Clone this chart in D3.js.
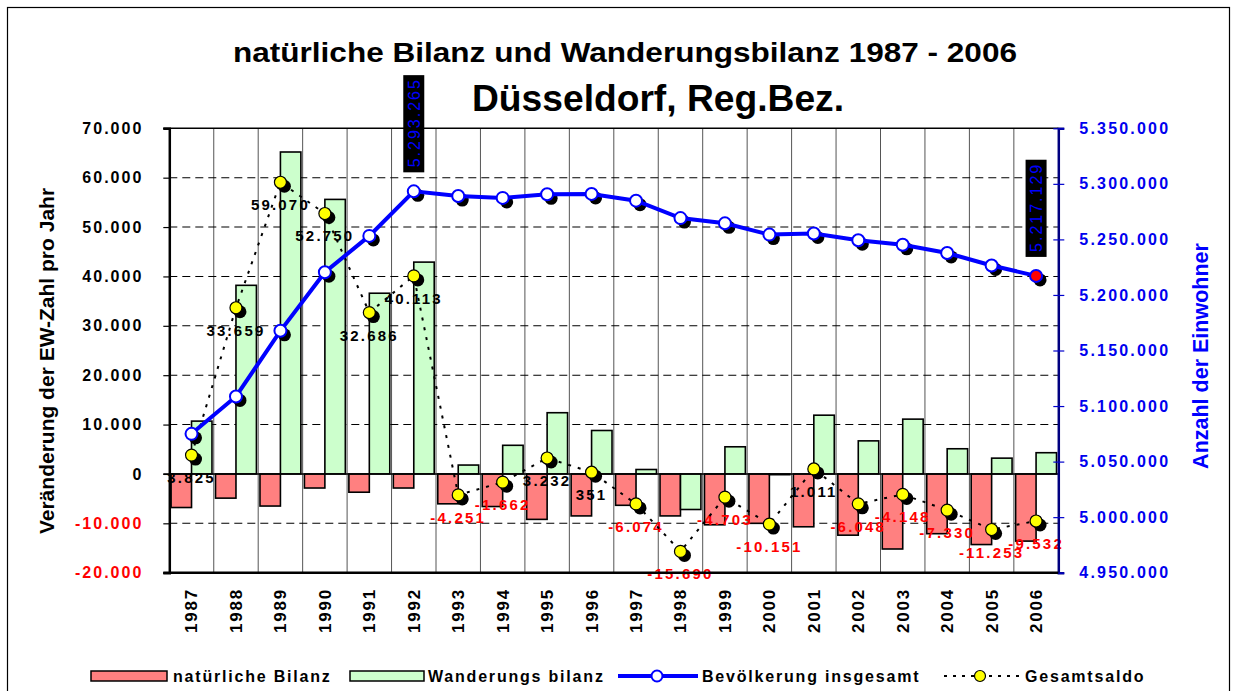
<!DOCTYPE html>
<html>
<head>
<meta charset="utf-8">
<script src="https://cdn.jsdelivr.net/npm/d3@7"></script>
<style>
  body { margin: 0; background: #fff; }
  svg text { font-family: "Liberation Sans", Arial, sans-serif; font-weight: bold; }
</style>
</head>
<body>
<svg id="chart" width="1237" height="691"></svg>
<script>
// data
var years = ["1987","1988","1989","1990","1991","1992","1993","1994","1995","1996",
             "1997","1998","1999","2000","2001","2002","2003","2004","2005","2006"];
var natBilanz = [-6800,-4900,-6500,-2850,-3700,-2850,-6050,-6600,-9200,-8500,
                 -6350,-8500,-10300,-10000,-10700,-12400,-15200,-12100,-14300,-13600];
var wanderBilanz = [10700,38200,65200,55600,36600,42900,1800,5800,12400,8800,
                    900,-7200,5500,-150,11900,6700,11100,5100,3200,4300];
var gesamtsaldo = [3825,33659,59070,52750,32686,40113,-4251,-1662,3232,351,
                   -6074,-15690,-4703,-10151,1011,-6048,-4148,-7330,-11253,-9532];
var bevoelkerung = [5074987,5108646,5167716,5220466,5253152,5293265,5289014,5287352,5290584,5290935,
                    5284861,5269171,5264468,5254317,5255328,5249280,5245132,5237802,5226549,5217129];
var leftTicks = [-20000,-10000,0,10000,20000,30000,40000,50000,60000,70000];
var rightTicks = [4950000,5000000,5050000,5100000,5150000,5200000,5250000,5300000,5350000];
var highlight = [5, 19]; // 1992 und 2006

var de = d3.formatLocale({decimal: ",", thousands: ".", grouping: [3], currency: ["", " €"], minus: "-"});
var fmt = de.format(",d");

var svg = d3.select("#chart");
var plotL = 169.3, plotR = 1058.3, plotT = 128.3, plotB = 572.7;

var x = d3.scaleBand().domain(years).range([plotL, plotR]).padding(0);
var y = d3.scaleLinear().domain([-20000, 70000]).range([plotB, plotT]);
var yR = d3.scaleLinear().domain([4950000, 5350000]).range([plotB, plotT]);
var bw = x.bandwidth() * 0.46;
function cx(d) { return x(d) + x.bandwidth() / 2; }

// outer frame
svg.append("rect").attr("x", 7.5).attr("y", 7.5).attr("width", 1222).attr("height", 700)
    .attr("fill", "none").attr("stroke", "#000").attr("stroke-width", 1.2);

// titles
svg.append("text").attr("x", 625).attr("y", 62).attr("text-anchor", "middle")
    .style("font-size", "27px").attr("textLength", 784).attr("lengthAdjust", "spacingAndGlyphs")
    .text("natürliche Bilanz und Wanderungsbilanz 1987 - 2006");
svg.append("text").attr("x", 658).attr("y", 111).attr("text-anchor", "middle")
    .style("font-size", "36px").attr("textLength", 372).attr("lengthAdjust", "spacingAndGlyphs")
    .text("Düsseldorf, Reg.Bez.");

// vertical grid
svg.append("g").selectAll("line").data(years.slice(1)).join("line")
    .attr("x1", d => x(d)).attr("x2", d => x(d))
    .attr("y1", plotT).attr("y2", plotB)
    .attr("stroke", "#555").attr("stroke-width", 1);

// horizontal dashed grid
svg.append("g").selectAll("line").data(leftTicks.filter(d => d != 0 && d != 70000 && d != -20000)).join("line")
    .attr("x1", plotL).attr("x2", plotR)
    .attr("y1", d => y(d)).attr("y2", d => y(d))
    .attr("stroke", "#000").attr("stroke-width", 1.1).attr("stroke-dasharray", "8,5");

// top border
svg.append("line").attr("x1", plotL - 6).attr("x2", plotR).attr("y1", plotT).attr("y2", plotT)
    .attr("stroke", "#000").attr("stroke-width", 1.5);

// bars
svg.append("g").selectAll("rect").data(natBilanz).join("rect")
    .attr("x", (d, i) => cx(years[i]) - bw)
    .attr("y", d => y(Math.max(0, d)))
    .attr("width", bw)
    .attr("height", d => Math.abs(y(d) - y(0)))
    .attr("fill", "#ff8080").attr("stroke", "#000").attr("stroke-width", 1.6);
svg.append("g").selectAll("rect").data(wanderBilanz).join("rect")
    .attr("x", (d, i) => cx(years[i]))
    .attr("y", d => y(Math.max(0, d)))
    .attr("width", bw)
    .attr("height", d => Math.abs(y(d) - y(0)))
    .attr("fill", "#ccffcc").attr("stroke", "#000").attr("stroke-width", 1.6);

// zero line
svg.append("line").attr("x1", plotL - 6).attr("x2", plotR).attr("y1", y(0)).attr("y2", y(0))
    .attr("stroke", "#000").attr("stroke-width", 1.5);

// Gesamtsaldo labels
svg.append("g").selectAll("text").data(gesamtsaldo).join("text")
    .attr("x", (d, i) => cx(years[i]))
    .attr("y", d => y(d) + 28)
    .attr("text-anchor", "middle")
    .style("font-size", "15px").style("letter-spacing", "2.2px")
    .attr("fill", d => d < 0 ? "#ff0000" : "#000")
    .text(d => fmt(d));

// Gesamtsaldo line
var saldoLine = d3.line().x((d, i) => cx(years[i])).y(d => y(d));
svg.append("g").selectAll("circle").data(gesamtsaldo).join("circle")
    .attr("cx", (d, i) => cx(years[i]) + 4).attr("cy", d => y(d) + 4).attr("r", 6.5).attr("fill", "#000");
svg.append("path").datum(gesamtsaldo).attr("d", saldoLine)
    .attr("fill", "none").attr("stroke", "#000").attr("stroke-width", 2).attr("stroke-dasharray", "3,7");
svg.append("g").selectAll("circle").data(gesamtsaldo).join("circle")
    .attr("cx", (d, i) => cx(years[i])).attr("cy", d => y(d)).attr("r", 6)
    .attr("fill", "#ffff00").attr("stroke", "#000").attr("stroke-width", 1.2);

// Bevoelkerung line
var bevLine = d3.line().x((d, i) => cx(years[i])).y(d => yR(d));
svg.append("g").selectAll("circle").data(bevoelkerung).join("circle")
    .attr("cx", (d, i) => cx(years[i]) + 4).attr("cy", d => yR(d) + 4).attr("r", 6.5).attr("fill", "#000");
svg.append("path").datum(bevoelkerung).attr("d", bevLine)
    .attr("fill", "none").attr("stroke", "#0000ff").attr("stroke-width", 4);
svg.append("g").selectAll("circle").data(bevoelkerung).join("circle")
    .attr("cx", (d, i) => cx(years[i])).attr("cy", d => yR(d)).attr("r", 6)
    .attr("fill", (d, i) => i == 19 ? "#ff0000" : "#fff")
    .attr("stroke", "#0000ff").attr("stroke-width", 2);

// highlighted value boxes
highlight.forEach(function(i) {
    var px = cx(years[i]), py = yR(bevoelkerung[i]) - 19;
    var g = svg.append("g");
    var box = g.append("rect").attr("fill", "#000");
    var t = g.append("text")
        .attr("transform", "translate(" + (px + 6) + "," + (py - 5) + ") rotate(-90)")
        .style("font-size", "16px").style("font-weight", "normal").style("letter-spacing", "2px")
        .attr("fill", "#0000ff").text(fmt(bevoelkerung[i]));
    var len = t.node().getComputedTextLength();
    box.attr("x", px - 10.5).attr("y", py - len - 8).attr("width", 21).attr("height", len + 8);
});

// left axis
var yAxis = d3.axisLeft(y).tickValues(leftTicks).tickSize(6).tickPadding(20).tickFormat(fmt);
var gl = svg.append("g").attr("transform", "translate(" + plotL + ",0)").call(yAxis);
gl.select(".domain").attr("stroke", "#000").attr("stroke-width", 2.5);
gl.selectAll(".tick line").attr("stroke", "#000").attr("stroke-width", 1.2);
gl.selectAll(".tick text").style("font-size", "16px").style("letter-spacing", "2px")
    .attr("fill", d => d < 0 ? "#ff0000" : "#000");

// right axis
var yAxisR = d3.axisRight(yR).tickValues(rightTicks).tickSize(6).tickPadding(15).tickFormat(fmt);
var gr = svg.append("g").attr("transform", "translate(" + plotR + ",0)").call(yAxisR);
gr.select(".domain").attr("stroke", "#000080").attr("stroke-width", 2.5);
gr.selectAll(".tick line").attr("x1", -5).attr("stroke", "#0000cc").attr("stroke-width", 1.2);
gr.selectAll(".tick text").style("font-size", "16px").style("letter-spacing", "2.2px").attr("fill", "#0000ee");

// bottom axis
svg.append("line").attr("x1", plotL - 6).attr("x2", plotR).attr("y1", plotB).attr("y2", plotB)
    .attr("stroke", "#000").attr("stroke-width", 2.5);
svg.append("g").selectAll("text").data(years).join("text")
    .attr("transform", d => "translate(" + cx(d) + ",588) rotate(-90)")
    .attr("dy", "0.35em").attr("text-anchor", "end")
    .style("font-size", "17px").style("letter-spacing", "1.8px")
    .text(d => d);

// axis titles
svg.append("text").attr("transform", "translate(54,361) rotate(-90)").attr("text-anchor", "middle")
    .style("font-size", "21px").text("Veränderung der EW-Zahl pro Jahr");
svg.append("text").attr("transform", "translate(1208,356) rotate(-90)").attr("text-anchor", "middle")
    .style("font-size", "21.5px").attr("fill", "#0000ff").text("Anzahl der Einwohner");

// legend
var lg = svg.append("g").style("font-size", "16px").style("letter-spacing", "1.8px");
lg.append("rect").attr("x", 91).attr("y", 671).attr("width", 76).attr("height", 10)
    .attr("fill", "#ff8080").attr("stroke", "#000").attr("stroke-width", 1.5);
lg.append("text").attr("x", 173).attr("y", 682).text("natürliche Bilanz");
lg.append("rect").attr("x", 350).attr("y", 671).attr("width", 74).attr("height", 10)
    .attr("fill", "#ccffcc").attr("stroke", "#000").attr("stroke-width", 1.5);
lg.append("text").attr("x", 428).attr("y", 682).text("Wanderungs bilanz");
lg.append("line").attr("x1", 618).attr("x2", 698).attr("y1", 676).attr("y2", 676)
    .attr("stroke", "#0000ff").attr("stroke-width", 4);
lg.append("circle").attr("cx", 657).attr("cy", 676).attr("r", 5.5)
    .attr("fill", "#fff").attr("stroke", "#0000ff").attr("stroke-width", 2);
lg.append("text").attr("x", 702).attr("y", 682).text("Bevölkerung insgesamt");
lg.append("line").attr("x1", 944).attr("x2", 1019).attr("y1", 676).attr("y2", 676)
    .attr("stroke", "#000").attr("stroke-width", 2).attr("stroke-dasharray", "3,6");
lg.append("circle").attr("cx", 980).attr("cy", 676).attr("r", 5.5)
    .attr("fill", "#ffff00").attr("stroke", "#000").attr("stroke-width", 1.2);
lg.append("text").attr("x", 1025).attr("y", 682).text("Gesamtsaldo");
</script>
</body>
</html>
